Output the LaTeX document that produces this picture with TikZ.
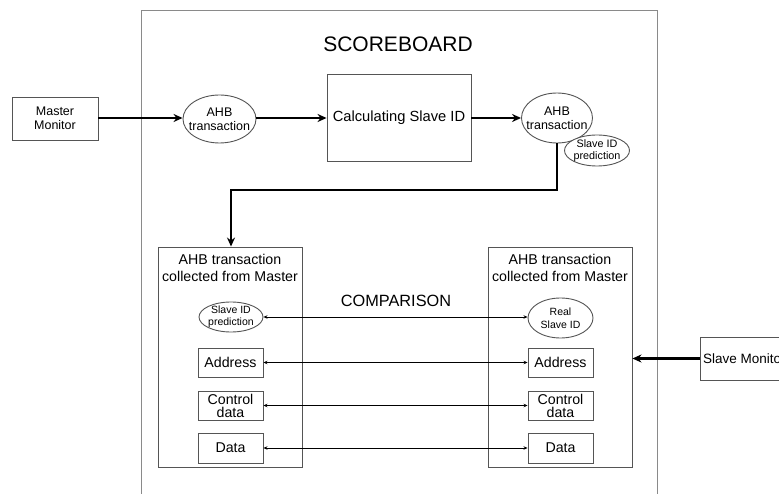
\documentclass[tikz,border=0pt]{standalone}
\usepackage{fontspec}
\setmainfont{Liberation Sans}
\usetikzlibrary{shapes.geometric,arrows.meta}
\definecolor{boxgray}{HTML}{555555}
\definecolor{outergray}{HTML}{8A8A8A}
\tikzset{
  px/.style={x=1pt,y=-1pt},
  rbox/.style={draw=boxgray,line width=0.9pt,rectangle,inner sep=0pt,align=center},
  ell/.style={draw=boxgray,line width=0.9pt,ellipse,inner xsep=-6pt,inner ysep=-4pt,align=center},
  thick arrow/.style={line width=2.2pt,-{Stealth[length=9pt,width=8pt]}},
  thin arrow/.style={line width=0.7pt,{Stealth[length=4pt,width=3.5pt]}-{Stealth[length=4pt,width=3.5pt]}},
}
\begin{document}
\begin{tikzpicture}[px]
\useasboundingbox (0,0) rectangle (779,494);
\clip (0,0) rectangle (779,494);
\fill[white] (0,0) rectangle (779,494);
% scoreboard outer box
\draw[outergray,line width=1pt] (141,520) -- (141,11) -- (657,11) -- (657,520);
\node[font=\fontsize{21}{24}\selectfont] (title) at (398,44) {SCOREBOARD};

% master monitor
\node[rbox,minimum width=86pt,minimum height=43pt,font=\fontsize{12.5}{14.5}\selectfont] (mm) at (55,118.5) {Master\\Monitor};
\node[ell,minimum width=73pt,minimum height=48pt,font=\fontsize{12.5}{14}\selectfont] (ahb1) at (219.5,119) {AHB\\transaction};
\node[rbox,minimum width=144pt,minimum height=87pt,font=\fontsize{14.7}{17}\selectfont] (calc) at (399,117.5) {Calculating Slave ID};
\node[ell,minimum width=71pt,minimum height=50pt,font=\fontsize{12.5}{14}\selectfont] (ahb2) at (557,118) {AHB\\transaction};
\node[ell,fill=white,minimum width=65pt,minimum height=31pt,font=\fontsize{10.8}{12}\selectfont] (sidp) at (597,150.5) {Slave ID\\prediction};

\draw[thick arrow] (mm.east |- 0,118) -- (ahb1.west |- 0,118);
\draw[thick arrow] (ahb1.east |- 0,118) -- (calc.west |- 0,118);
\draw[thick arrow] (calc.east |- 0,118) -- (ahb2.west |- 0,118);

% inner boxes
\node[rbox,minimum width=144pt,minimum height=220pt] (lbox) at (230,357) {};
\node[rbox,minimum width=144pt,minimum height=220pt] (rbox) at (560,357) {};
\node[font=\fontsize{14.2}{16.5}\selectfont,align=center] (lt) at (230,268) {AHB transaction\\collected from Master};
\node[font=\fontsize{14.2}{16.5}\selectfont,align=center] (rt) at (560,268) {AHB transaction\\collected from Master};

\coordinate (c1) at (ahb2.south |- 0,190);
\coordinate (c2) at (231,190);
\draw[line width=2.2pt,-{Stealth[length=9pt,width=8pt]}] (ahb2.south) -- (c1) -- (c2) -- (lbox.north -| c2);

\node[font=\fontsize{16.3}{18}\selectfont] (cmp) at (396,301) {COMPARISON};

% left column
\node[ell,minimum width=64pt,minimum height=30pt,font=\fontsize{10.5}{12}\selectfont] (lsid) at (231,317) {Slave ID\\prediction};
\node[rbox,minimum width=65pt,minimum height=29pt,font=\fontsize{14.2}{16}\selectfont] (laddr) at (230.5,362.5) {Address};
\node[rbox,minimum width=65pt,minimum height=29pt,font=\fontsize{14.2}{13}\selectfont] (lctl) at (230.5,405.5) {Control\\data};
\node[rbox,minimum width=65pt,minimum height=30pt,font=\fontsize{14.2}{16}\selectfont] (ldat) at (230.5,448) {Data};

% right column
\node[ell,minimum width=65pt,minimum height=40pt,font=\fontsize{10.5}{12.5}\selectfont] (rsid) at (560.5,318) {Real\\Slave ID};
\node[rbox,minimum width=65pt,minimum height=29pt,font=\fontsize{14.2}{16}\selectfont] (raddr) at (560.5,362.5) {Address};
\node[rbox,minimum width=65pt,minimum height=29pt,font=\fontsize{14.2}{13}\selectfont] (rctl) at (560.5,405.5) {Control\\data};
\node[rbox,minimum width=65pt,minimum height=30pt,font=\fontsize{14.2}{16}\selectfont] (rdat) at (560.5,448) {Data};

\draw[thin arrow] (lsid.east) -- (rsid.west |- lsid.east);
\draw[thin arrow] (laddr.east) -- (raddr.west);
\draw[thin arrow] (lctl.east) -- (rctl.west);
\draw[thin arrow] (ldat.east) -- (rdat.west);

% slave monitor
\node[rbox,minimum width=96pt,minimum height=43pt,font=\fontsize{13.5}{15}\selectfont,anchor=west] (sm) at (700,358.5) {Slave Monitor\hspace{8pt}};
\draw[thick arrow] (sm.west) -- (rbox.east |- sm.west);
\end{tikzpicture}
\end{document}
